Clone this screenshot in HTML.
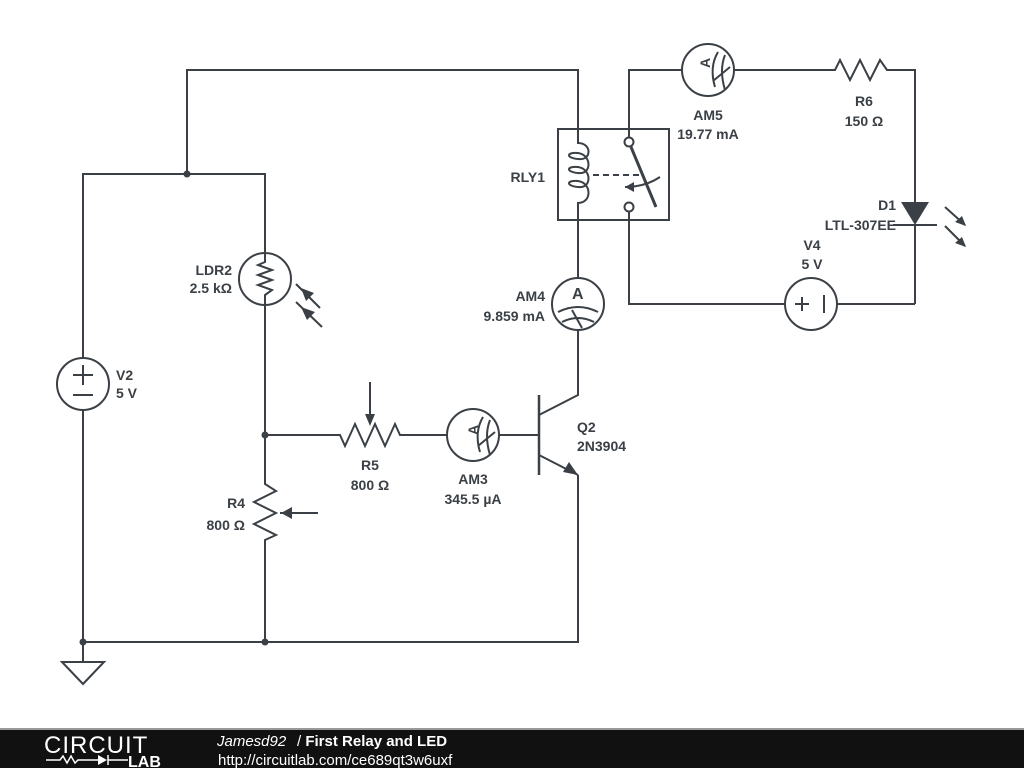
<!DOCTYPE html>
<html><head><meta charset="utf-8"><style>
html,body{margin:0;padding:0;background:#fff;width:1024px;height:768px;overflow:hidden}
svg{display:block}
text{font-family:"Liberation Sans",sans-serif;font-size:14px;font-weight:bold;fill:#3a4045}
</style></head><body>
<svg width="1024" height="768" viewBox="0 0 1024 768">
<g stroke="#3a4045" stroke-width="2" fill="none">
<polyline points="187,174 187,70 578,70 578,143"/>
<polyline points="265,253 265,174 83,174 83,358"/>
<polyline points="83,410 83,662"/>
<polyline points="83,642 578,642 578,475"/>
<polygon points="62,662 104,662 83,684"/>
<circle cx="83" cy="384" r="26"/>
<line x1="73" y1="375" x2="93" y2="375"/><line x1="83" y1="365" x2="83" y2="385"/>
<line x1="73" y1="395" x2="93" y2="395"/>
<circle cx="265" cy="279" r="26"/>
<polyline points="265,253 265,262 258,265 272,270 258,275 272,280 258,285 272,290 265,295 265,480"/>
<line x1="296" y1="284" x2="320" y2="308"/><line x1="296" y1="302" x2="322" y2="327"/>
<polyline points="265,480 265,484 276,491 254,502 276,513 254,524 276,535 265,540 265,642"/>
<line x1="280" y1="513" x2="318" y2="513"/>
<polyline points="265,435 340,435 345,446 355,424 365,446 375,424 385,446 395,424 400,435 447,435"/>
<line x1="370" y1="382" x2="370" y2="420"/>
<circle cx="473" cy="435" r="26"/>
<line x1="499" y1="435" x2="538" y2="435"/>
<path d="M483 417 Q474 432 480 452 M490 420 Q484 435 490 455 M478 446 L495 432"/>
<line x1="539" y1="395" x2="539" y2="475" stroke-width="2.5"/>
<polyline points="539,415 578,395 578,330"/>
<line x1="539" y1="455" x2="578" y2="475"/>
<circle cx="578" cy="304" r="26"/>
<line x1="578" y1="278" x2="578" y2="220"/>
<path d="M558 312 Q578 302 598 312 M562 322 Q578 314 594 322 M572 310 L582 328"/>
<rect x="558" y="129" width="111" height="91"/>
<path d="M578 129 L578 143 C592 143 592 161 578 159 C566 158 566 152 578 153 C592 155 592 175 578 173 C566 172 566 166 578 167 C592 169 592 189 578 187 C566 186 566 180 578 181 C592 183 592 203 578 203 L578 220"/>
<line x1="593" y1="175" x2="640" y2="175" stroke-dasharray="6,4"/>
<circle cx="629" cy="142" r="4.5"/><circle cx="629" cy="207" r="4.5"/>
<line x1="631" y1="147" x2="656" y2="207" stroke-width="3"/>
<path d="M660 177 Q645 187 625 187"/>
<polyline points="629,137 629,70 682,70"/>
<circle cx="708" cy="70" r="26"/>
<path d="M718 52 Q709 67 715 87 M725 55 Q719 70 725 90 M713 81 L730 67"/>
<polyline points="734,70 835,70 840,60 850,80 860,60 870,80 880,60 887,70 915,70 915,202"/>
<line x1="915" y1="225" x2="915" y2="304"/>
<line x1="893" y1="225" x2="937" y2="225"/>
<polyline points="915,304 837,304"/>
<circle cx="811" cy="304" r="26"/>
<line x1="795" y1="304" x2="809" y2="304"/><line x1="802" y1="297" x2="802" y2="311"/>
<line x1="824" y1="295" x2="824" y2="313"/>
<polyline points="785,304 629,304 629,212"/>
<line x1="945" y1="207" x2="965" y2="225"/><line x1="945" y1="226" x2="965" y2="246"/>
</g>
<g fill="#3a4045">
<circle cx="187" cy="174" r="3.5"/><circle cx="265" cy="435" r="3.5"/>
<circle cx="83" cy="642" r="3.5"/><circle cx="265" cy="642" r="3.5"/>
<polygon points="301,288 314,293 306,301"/><polygon points="301,307 315,312 307,320"/>
<polygon points="281,513 292,507 292,519"/>
<polygon points="370,426 365,414 375,414"/>
<polygon points="578,475 563,472 569,462"/>
<polygon points="625,187 634,182 634,192"/>
<polygon points="901,202 929,202 915,225"/>
<polygon points="966,226 955,222 962,216"/><polygon points="966,247 955,243 962,237"/>
<text x="477" y="444" transform="rotate(-90 473 439)">A</text>
<text x="711" y="79" transform="rotate(-90 705 74)">A</text>
<text x="572" y="299" style="font-size:16px">A</text>
</g>
<text x="116" y="380">V2</text><text x="116" y="398">5 V</text>
<text x="232" y="275" text-anchor="end">LDR2</text><text x="232" y="293" text-anchor="end">2.5 kΩ</text>
<text x="245" y="508" text-anchor="end">R4</text><text x="245" y="530" text-anchor="end">800 Ω</text>
<text x="370" y="470" text-anchor="middle">R5</text><text x="370" y="490" text-anchor="middle">800 Ω</text>
<text x="473" y="484" text-anchor="middle">AM3</text><text x="473" y="504" text-anchor="middle">345.5 µA</text>
<text x="577" y="432">Q2</text><text x="577" y="451">2N3904</text>
<text x="545" y="301" text-anchor="end">AM4</text><text x="545" y="321" text-anchor="end">9.859 mA</text>
<text x="545" y="182" text-anchor="end">RLY1</text>
<text x="708" y="120" text-anchor="middle">AM5</text><text x="708" y="139" text-anchor="middle">19.77 mA</text>
<text x="864" y="106" text-anchor="middle">R6</text><text x="864" y="126" text-anchor="middle">150 Ω</text>
<text x="896" y="210" text-anchor="end">D1</text><text x="896" y="230" text-anchor="end">LTL-307EE</text>
<text x="812" y="250" text-anchor="middle">V4</text><text x="812" y="269" text-anchor="middle">5 V</text>
<rect x="0" y="728" width="1024" height="2" fill="#999"/>
<rect x="0" y="730" width="1024" height="38" fill="#111"/>
<text x="44" y="753" style="font-size:24px;font-weight:normal;fill:#fff;letter-spacing:1px">CIRCUIT</text>
<g stroke="#fff" stroke-width="1.5" fill="none"><polyline points="46,760 60,760 63,756 67,763 71,756 75,763 78,760 100,760"/><line x1="108" y1="755" x2="108" y2="765"/><line x1="108" y1="760" x2="128" y2="760"/></g>
<polygon points="98,755 98,765 107,760" fill="#fff"/>
<text x="128" y="767" style="font-size:16px;fill:#fff">LAB</text>
<text x="217" y="746" style="fill:#fff;font-weight:normal;font-style:italic;font-size:15px">Jamesd92</text>
<text x="297" y="746" style="fill:#fff;font-weight:normal;font-size:15px">/ <tspan style="font-weight:bold">First Relay and LED</tspan></text>
<text x="218" y="765" style="fill:#fff;font-weight:normal;font-size:15px">http://circuitlab.com/ce689qt3w6uxf</text>
</svg>
</body></html>
